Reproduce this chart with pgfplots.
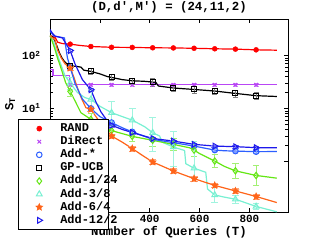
\documentclass[border=0pt]{standalone}
\usepackage{fontspec}
\setmainfont{Liberation Mono}[Ligatures=TeXOff]
\usepackage{pgfplots}
\pgfplotsset{compat=1.18}

\definecolor{cRand}{rgb}{1,0,0}
\definecolor{cDir}{RGB}{185,70,245}
\definecolor{cAddS}{RGB}{45,95,255}
\definecolor{cGreen}{RGB}{100,230,20}
\definecolor{cCyan}{RGB}{120,240,210}
\definecolor{cOrange}{RGB}{255,100,25}
\definecolor{cBlue}{RGB}{30,25,235}

\pgfdeclareplotmark{fstar}{%
  \pgfpathmoveto{\pgfqpointpolar{90}{\pgfplotmarksize}}%
  \pgfpathlineto{\pgfqpointpolar{126}{0.45\pgfplotmarksize}}%
  \pgfpathlineto{\pgfqpointpolar{162}{\pgfplotmarksize}}%
  \pgfpathlineto{\pgfqpointpolar{198}{0.45\pgfplotmarksize}}%
  \pgfpathlineto{\pgfqpointpolar{234}{\pgfplotmarksize}}%
  \pgfpathlineto{\pgfqpointpolar{270}{0.45\pgfplotmarksize}}%
  \pgfpathlineto{\pgfqpointpolar{306}{\pgfplotmarksize}}%
  \pgfpathlineto{\pgfqpointpolar{342}{0.45\pgfplotmarksize}}%
  \pgfpathlineto{\pgfqpointpolar{18}{\pgfplotmarksize}}%
  \pgfpathlineto{\pgfqpointpolar{54}{0.45\pgfplotmarksize}}%
  \pgfpathclose
  \pgfusepathqfillstroke
}
\pgfplotsset{legimg/.style={legend image code/.code={%
  \path[draw=none,fill=none] (0bp,-3bp) rectangle (22bp,3bp);
  \draw[##1,only marks] plot coordinates {(11bp,0bp)};}}}
\newcommand{\lent}[1]{\makebox[46bp][l]{\hspace*{9bp}#1}}

\begin{document}
\begin{tikzpicture}
\path[use as bounding box] (-50bp,-28bp) rectangle (269bp,212bp);
\begin{axis}[
  at={(0,0)}, anchor=south west, scale only axis,
  width=238bp, height=193bp,
  ymode=log, xmin=0, xmax=955, ymin=0.11, ymax=490,
  xtick={0,200,400,600,800}, xticklabels={,,400,600,800},
  ytick={1,10,100}, yticklabels={,10\textsuperscript{1},10\textsuperscript{2}},
  tick align=inside,
  axis line style={line width=0.6bp},
  tick style={line width=0.5bp, black},
  tick label style={font=\fontsize{11}{12}\selectfont\bfseries},
  yticklabel style={xshift=-6bp},
  every axis title shift=0pt,
  title={(D,d',M') = (24,11,2)},
  title style={font=\fontsize{12.4}{14}\selectfont\bfseries, at={(axis description cs:0.5,1)}, anchor=center, yshift=11.5bp},
  xlabel={Number of Queries (T)},
  xlabel style={font=\fontsize{12.4}{14}\selectfont\bfseries, at={(axis description cs:0.5,0)}, anchor=center, yshift=-20bp},
  ylabel={S\textsubscript{T}},
  ylabel style={font=\fontsize{12.4}{14}\selectfont\bfseries, at={(axis description cs:-0.168,0.56)}, anchor=center},
  legend cell align=left,
  legend style={at={(axis description cs:-0.1345,0.482)}, anchor=north west,
    draw=black, fill=white, line width=0.6bp,
    font=\fontsize{12}{13}\selectfont\bfseries,
    inner xsep=10bp, inner ysep=2.8bp, column sep=0bp,
    nodes={inner sep=1bp, text height=8.5bp, text depth=2.6bp}},
]
% ---------- lines ----------
\addplot[forget plot, cRand, line width=1.2bp] coordinates {(0,235)(10,232)(22,215)(31,178)(50,168)(81,164)(120,155)(164,148)(247,143)(330,142)(412,140)(495,139)(578,137)(661,134)(744,132)(827,128)(910,126)};
\addplot[forget plot, cDir, line width=1.2bp] coordinates {(0,54)(12,54)(12,42)(78,42)(78,28)(910,28)};
\addplot[forget plot, black, line width=1.2bp] coordinates {(0,235)(10,225)(18,198)(28,150)(38,112)(48,90)(58,77)(70,68)(81,64)(110,62)(125,60)(135,53)(164,50)(200,45)(230,40)(247,38.5)(290,35)(330,33.3)(380,32.5)(425,31)(435,26.5)(495,24.3)(578,22.8)(661,21.3)(744,19.2)(827,17.4)(910,16.8)};
\addplot[forget plot, cCyan, line width=1.2bp] coordinates {(0,235)(15,180)(28,110)(40,75)(60,42)(81,30)(110,20)(140,16)(164,14.8)(200,11)(247,8.3)(290,7)(330,6.0)(380,4.5)(412,3.47)(440,3.0)(450,2.3)(495,1.86)(540,1.6)(545,0.9)(578,0.74)(625,0.62)(632,0.3)(661,0.231)(700,0.21)(744,0.192)(827,0.14)(910,0.111)};
\addplot[forget plot, cGreen, line width=1.2bp] coordinates {(0,240)(8,190)(18,140)(30,90)(42,62)(63,30.5)(81,21)(100,14)(124,8.3)(164,6.2)(200,4.8)(247,3.8)(330,2.96)(412,2.49)(495,2.09)(560,1.8)(578,1.63)(600,1.4)(661,1.01)(700,0.8)(744,0.66)(827,0.54)(910,0.48)};
\addplot[forget plot, cOrange, line width=1.2bp] coordinates {(0,235)(20,200)(30,128)(45,90)(60,70)(81,57.8)(95,40)(110,24.5)(125,16)(144,10.3)(164,9.6)(200,5.5)(247,3.0)(290,2.3)(330,1.74)(370,1.3)(412,0.97)(495,0.656)(578,0.47)(661,0.35)(744,0.275)(827,0.216)(910,0.166)};
\addplot[forget plot, cAddS, line width=1.2bp] coordinates {(0,290)(15,235)(35,225)(58,215)(62,160)(70,90)(81,60)(100,30)(130,15)(164,10)(200,7)(247,5.4)(290,4.3)(330,3.6)(412,2.6)(495,2.25)(578,1.94)(661,1.63)(700,1.58)(744,1.56)(827,1.52)(910,1.53)};
\addplot[forget plot, cBlue, line width=1.2bp] coordinates {(0,310)(8,270)(20,232)(50,215)(60,180)(81,124)(100,70)(130,35)(164,22.5)(185,13)(205,8.5)(230,5.8)(247,4.8)(290,4.0)(330,3.5)(412,2.7)(495,2.41)(578,2.09)(661,1.94)(744,1.89)(827,1.81)(910,1.80)};
% ---------- markers ----------
\addplot[only marks, legimg, mark=*, mark size=2.5bp, color=cRand] table {
T v
81 164
164 148
247 143
330 142
412 140
495 139
578 137
661 134
744 132
827 128
};
\addlegendentry{\lent{RAND}}
\addplot[only marks, legimg, mark=x, mark size=2.5bp, color=cDir, mark options={line width=1bp},
  error bars/.cd, y dir=both, y explicit, error bar style={line width=0.6bp, color=cDir!60}]
  table[x=T, y=v, y error plus expr=\thisrow{hi}-\thisrow{v}, y error minus expr=\thisrow{v}-\thisrow{lo}] {
T v lo hi
81 28 26.5 29.6
164 28 26.5 29.6
247 28 26.5 29.6
330 28 26.5 29.6
412 28 26.5 29.6
495 28 26.5 29.6
578 28 26.5 29.6
661 28 26.5 29.6
744 28 26.5 29.6
827 28 26.5 29.6
};
\addlegendentry{\lent{DiRect}}
\addplot[only marks, legimg, mark=o, mark size=2.8bp, color=cAddS, mark options={line width=1bp},
  error bars/.cd, y dir=both, y explicit, error bar style={line width=0.6bp, color=cAddS!60}]
  table[x=T, y=v, y error plus expr=\thisrow{hi}-\thisrow{v}, y error minus expr=\thisrow{v}-\thisrow{lo}] {
T v lo hi
81 60 56 64
164 10 9.3 10.7
247 5.4 5.0 5.8
330 3.6 3.35 3.85
412 2.6 2.43 2.78
495 2.25 2.1 2.4
578 1.94 1.81 2.07
661 1.63 1.52 1.74
744 1.56 1.46 1.67
827 1.52 1.42 1.63
};
\addlegendentry{\lent{Add-*}}
\addplot[only marks, legimg, mark=square, mark size=2.5bp, color=black, mark options={line width=1bp},
  error bars/.cd, y dir=both, y explicit, error bar style={line width=0.6bp, color=gray}]
  table[x=T, y=v, y error plus expr=\thisrow{hi}-\thisrow{v}, y error minus expr=\thisrow{v}-\thisrow{lo}] {
T v lo hi
81 64 56 73
164 50 44 57
247 38.5 34 44
330 33.3 29 38
412 31.5 26 38
495 24.3 21 28
578 22.8 19.5 26.5
661 21.3 18.5 24.5
744 19.2 16.5 22
827 17.4 15 20
};
\addlegendentry{\lent{GP-UCB}}
\addplot[only marks, legimg, mark=diamond, mark size=3.2bp, color=cGreen, mark options={line width=1bp},
  error bars/.cd, y dir=both, y explicit, error bar style={line width=0.6bp, color=cGreen!60}]
  table[x=T, y=v, y error plus expr=\thisrow{hi}-\thisrow{v}, y error minus expr=\thisrow{v}-\thisrow{lo}] {
T v lo hi
81 21 16.8 26.3
164 6.2 4.8 8.1
247 3.8 3.0 4.75
330 2.96 2.37 3.7
412 2.49 1.92 3.24
495 2.09 1.61 2.72
578 1.63 1.25 2.12
661 1.01 0.76 1.34
744 0.66 0.47 0.92
827 0.54 0.35 0.84
};
\addlegendentry{\lent{Add-1/24}}
\addplot[only marks, legimg, mark=triangle, mark size=3.3bp, color=cCyan, mark options={line width=1bp},
  error bars/.cd, y dir=both, y explicit, error bar style={line width=0.6bp, color=cCyan!70}]
  table[x=T, y=v, y error plus expr=\thisrow{hi}-\thisrow{v}, y error minus expr=\thisrow{v}-\thisrow{lo}] {
T v lo hi
81 30 23 39
164 14.8 9.9 22.2
247 8.3 5.0 13.7
330 6.0 3.5 10.2
412 3.47 1.56 6.7
495 1.86 0.82 3.7
578 0.74 0.5 2.4
661 0.231 0.17 0.33
744 0.192 0.16 0.23
827 0.14 0.122 0.161
};
\addlegendentry{\lent{Add-3/8}}
\addplot[only marks, legimg, mark=fstar, mark size=3.6bp, color=cOrange, fill=cOrange, mark options={line width=0.6bp},
  error bars/.cd, y dir=both, y explicit, error bar style={line width=0.6bp, color=cOrange!60}]
  table[x=T, y=v, y error plus expr=\thisrow{hi}-\thisrow{v}, y error minus expr=\thisrow{v}-\thisrow{lo}] {
T v lo hi
81 57.8 52 64
164 9.6 8.7 10.6
247 3.0 2.7 3.3
330 1.74 1.57 1.92
412 0.97 0.87 1.08
495 0.656 0.59 0.73
578 0.47 0.42 0.52
661 0.35 0.32 0.39
744 0.275 0.25 0.305
827 0.216 0.195 0.24
};
\addlegendentry{\lent{Add-6/4}}
\addplot[only marks, legimg, mark=triangle, mark size=3.3bp, color=cBlue, mark options={line width=1bp, rotate=-90},
  error bars/.cd, y dir=both, y explicit, error bar style={line width=0.6bp, color=cBlue!60}]
  table[x=T, y=v, y error plus expr=\thisrow{hi}-\thisrow{v}, y error minus expr=\thisrow{v}-\thisrow{lo}] {
T v lo hi
81 124 117 131
164 22.5 21.2 23.8
247 4.8 4.5 5.1
330 3.5 3.3 3.7
412 2.7 2.55 2.86
495 2.41 2.27 2.55
578 2.09 1.97 2.21
661 1.94 1.83 2.05
744 1.89 1.78 2.0
827 1.81 1.71 1.92
};
\addlegendentry{\lent{Add-12/2}}
\end{axis}
\end{tikzpicture}
\end{document}
